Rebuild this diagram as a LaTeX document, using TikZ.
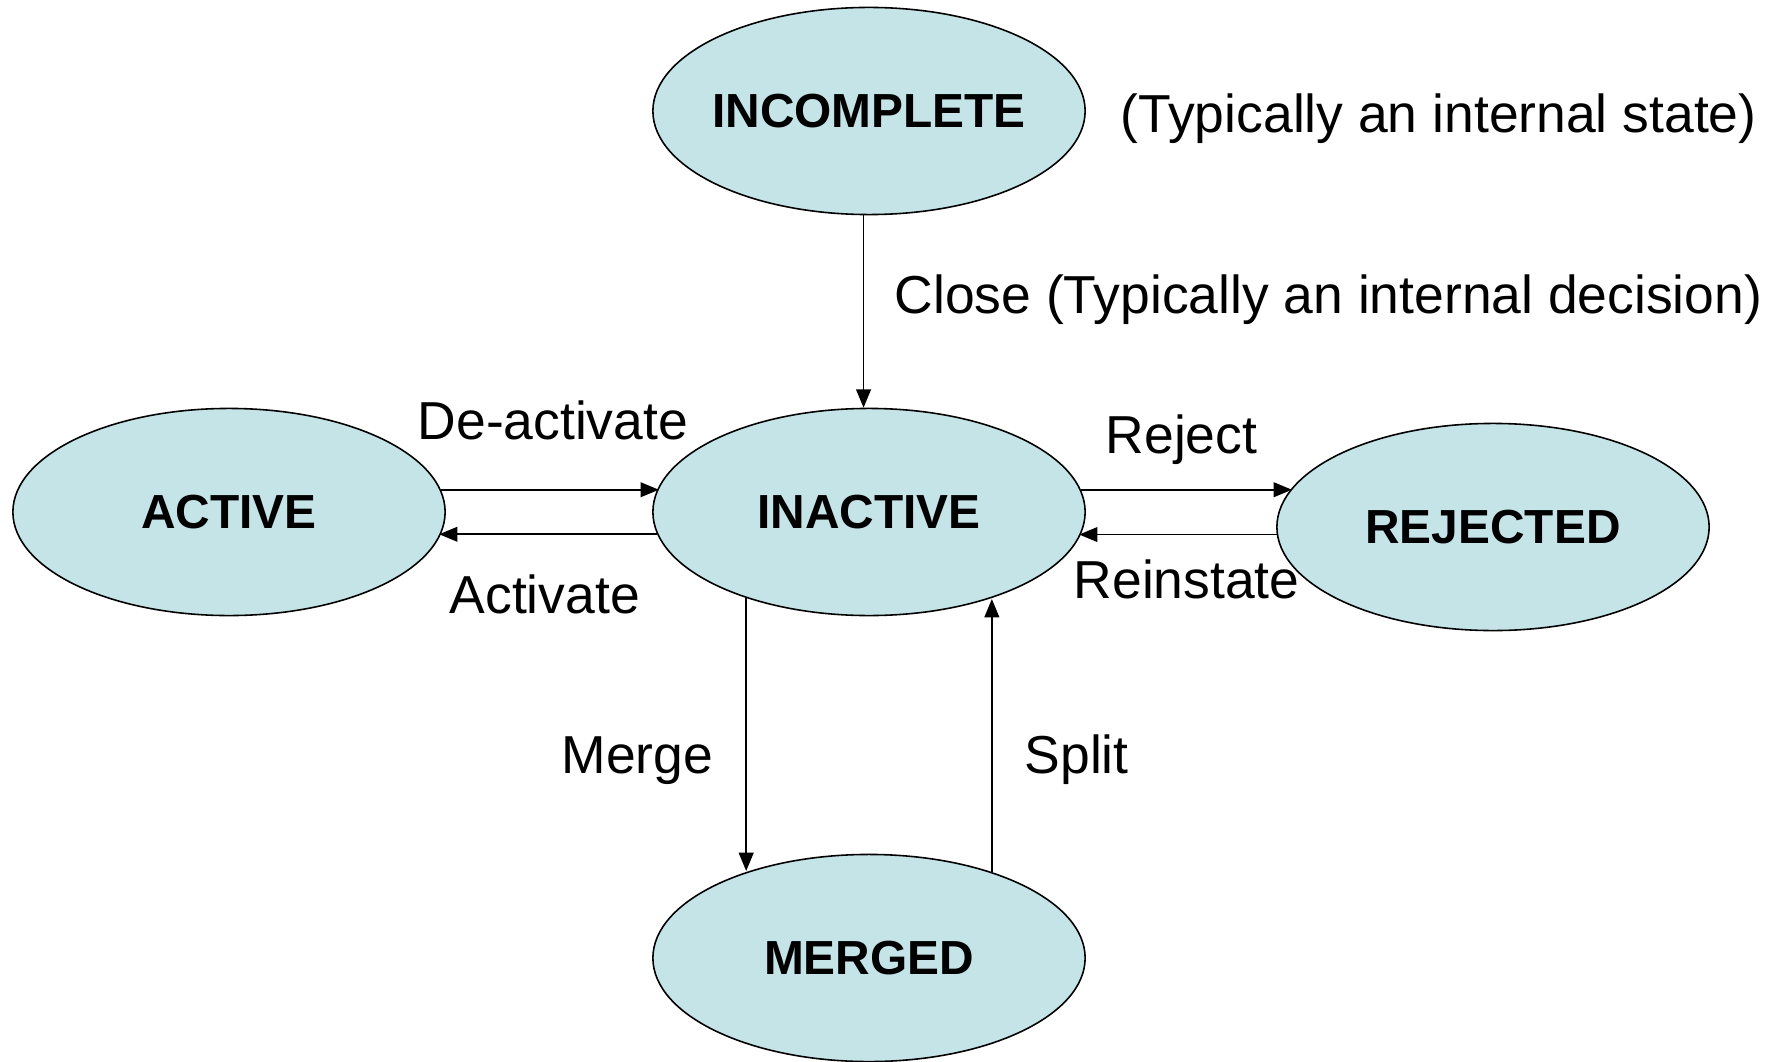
\documentclass[tikz,border=0pt]{standalone}
\usepackage{fontspec}
\setmainfont{Liberation Sans}
\usetikzlibrary{shapes.geometric,arrows.meta}
\definecolor{statefill}{RGB}{197,228,232}
\tikzset{
  state/.style={ellipse, draw=black, line width=0.45pt, fill=statefill,
    minimum width=4.32cm, minimum height=2.07cm, inner sep=0pt,
    font=\fontsize{13.6}{15}\selectfont\bfseries},
  lbl/.style={anchor=base west, inner sep=0pt, font=\fontsize{15.2}{17}\selectfont},
  arr/.style={line width=0.45pt, -{Triangle[length=5.2pt,width=4.2pt]}}
}
\newcommand{\stxt}[1]{\raisebox{-0.85pt}{\makebox[0pt]{#1}}}
\begin{document}
\begin{tikzpicture}[x=0.01cm,y=-0.01cm]
\useasboundingbox (0,0) rectangle (1777,1061);
\node[state] (incomplete) at (869,111) {\stxt{INCOMPLETE}};
\node[state] (active) at (229,512) {\stxt{ACTIVE}};
\node[state] (inactive) at (869,512) {\stxt{INACTIVE}};
\node[state] (rejected) at (1493,527) {\stxt{REJECTED}};
\node[state] (merged) at (869,958) {\stxt{MERGED}};

\node[lbl] (note) at (1120,133) {(Typically an internal state)};
\node[lbl] (lclose) at (894,314) {Close (Typically an internal decision)};
\node[lbl] (ldeact) at (417,439) {De-activate};
\node[lbl] (lact) at (449,613) {Activate};
\node[lbl] (lrej) at (1105,453) {Reject};
\node[lbl] (lrein) at (1073,598) {Reinstate};
\node[lbl] (lmerge) at (561,773) {Merge};
\node[lbl] (lsplit) at (1024,773) {Split};

\draw[arr] (incomplete.267.4) -- (incomplete.267.4 |- inactive.92.6);
\draw[arr] (active.6.5) -- (active.6.5 -| inactive.173.5);
\draw[arr] (inactive.186.3) -- (inactive.186.3 -| active.353.7);
\draw[arr] (inactive.6.5) -- (inactive.6.5 -| rejected.169);
\draw[arr] (rejected.182) -- (rejected.182 -| inactive.353.7);
\draw[arr] (inactive.215.8) -- (inactive.215.8 |- merged.144.2);
\draw[arr] (merged.35.8) -- (merged.35.8 |- inactive.324.2);
\end{tikzpicture}
\end{document}
